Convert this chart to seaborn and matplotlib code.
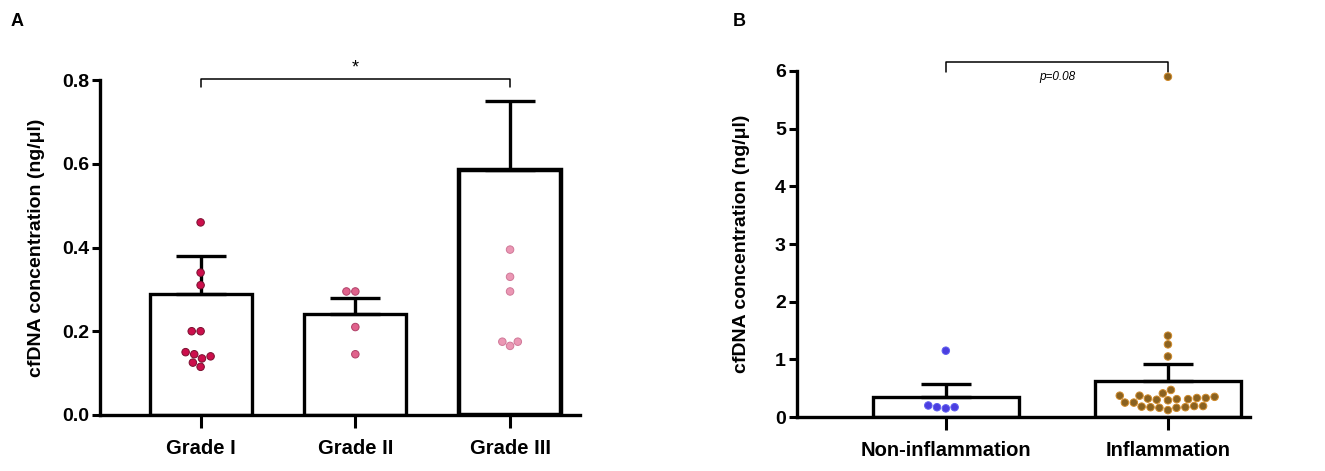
import numpy as np
import pandas as pd
import seaborn as sns
import matplotlib.pyplot as plt


# ======================================
# DATA
# ======================================

GRADES = ["Grade I", "Grade II", "Grade III"]
GRADE_MEAN = [0.29, 0.24, 0.585]
GRADE_SEM = [0.09, 0.04, 0.165]

grade_1 = [0.46, 0.34, 0.31, 0.20, 0.20, 0.15, 0.145, 0.14, 0.135, 0.125, 0.115]
grade_2 = [0.295, 0.295, 0.21, 0.145]
grade_3 = [0.395, 0.33, 0.295, 0.175, 0.175, 0.165]

GROUPS = ["Non-inflammation", "Inflammation"]
GROUP_MEAN = [0.35, 0.62]
GROUP_SEM = [0.22, 0.30]

non_inflam = [1.15, 0.20, 0.17, 0.17, 0.15]
inflam = [5.9, 1.41, 1.26, 1.05,
          0.47, 0.41, 0.37, 0.37, 0.35, 0.33, 0.33, 0.32, 0.31, 0.31,
          0.30, 0.29, 0.25, 0.25, 0.19, 0.19, 0.18, 0.17, 0.17, 0.16,
          0.16, 0.12]

GRADE_COLORS = ["#cc0f4c", "#e0628c", "#eb97b4"]
GRADE_EDGES = ["#7a1030", "#b04068", "#d07898"]
GROUP_COLORS = ["#4b3ee0", "#8a6221"]
GROUP_EDGES = ["#6060f0", "#d08a2a"]


# ======================================
# LONG TABLES
# ======================================

grade_pts = pd.DataFrame({
    "group": ["Grade I"] * len(grade_1)
    + ["Grade II"] * len(grade_2)
    + ["Grade III"] * len(grade_3),
    "value": grade_1 + grade_2 + grade_3
})

grade_bars = pd.DataFrame({"group": GRADES, "value": GRADE_MEAN})

inflam_pts = pd.DataFrame({
    "group": ["Non-inflammation"] * len(non_inflam)
    + ["Inflammation"] * len(inflam),
    "value": non_inflam + inflam
})

inflam_bars = pd.DataFrame({"group": GROUPS, "value": GROUP_MEAN})


# ======================================
# STYLE
# ======================================

sns.set_style("ticks")
plt.rcParams["font.family"] = ["Liberation Sans", "DejaVu Sans"]
plt.rcParams["font.weight"] = "bold"
plt.rcParams["text.color"] = "black"
plt.rcParams["axes.labelcolor"] = "black"
plt.rcParams["xtick.color"] = "black"
plt.rcParams["ytick.color"] = "black"
plt.rcParams["axes.edgecolor"] = "black"

fig = plt.figure(figsize=(13.25, 4.71), dpi=100)
ax_a = fig.add_axes([0.0755, 0.119, 0.362, 0.711])
ax_b = fig.add_axes([0.6015, 0.1146, 0.342, 0.7347])


def draw_panel(ax, bars, pts, order, means, sems, colors, edges,
               edge_widths, pt_size, ylabel_pad):
    sns.barplot(
        data=bars, x="group", y="value", order=order,
        color="white", edgecolor="black", linewidth=2.4,
        width=0.66, errorbar=None, ax=ax, zorder=2
    )
    for patch, lw in zip(ax.patches, edge_widths):
        patch.set_linewidth(lw)

    ax.errorbar(
        range(len(order)), means,
        yerr=[np.zeros(len(sems)), sems],
        fmt="none", ecolor="black", elinewidth=2.4,
        capsize=18, capthick=2.4, zorder=3
    )

    n_before = len(ax.collections)
    sns.swarmplot(
        data=pts, x="group", y="value", order=order,
        hue="group", hue_order=order, palette=colors,
        size=pt_size, linewidth=0.7,
        legend=False, ax=ax, zorder=4
    )
    for coll, ec in zip(ax.collections[n_before:], edges):
        coll.set_edgecolor(ec)

    for side in ["top", "right"]:
        ax.spines[side].set_visible(False)
    for side in ["left", "bottom"]:
        ax.spines[side].set_linewidth(2.4)

    ax.tick_params(axis="y", length=6, width=2.2, labelsize=14, pad=2)
    ax.tick_params(axis="x", length=9, width=2.2, labelsize=14.5, pad=8)
    ax.set_xlabel("")
    ax.set_ylabel("cfDNA concentration (ng/μl)", fontsize=14,
                  fontweight="bold", labelpad=ylabel_pad)
    for lab in ax.get_xticklabels() + ax.get_yticklabels():
        lab.set_fontweight("bold")


# ======================================
# PANEL A
# ======================================

draw_panel(ax_a, grade_bars, grade_pts, GRADES, GRADE_MEAN, GRADE_SEM,
           GRADE_COLORS, GRADE_EDGES, [2.4, 2.4, 3.2], 5.4, 12)
ax_a.set_xlim(-0.65, 2.45)
ax_a.set_ylim(0, 0.8)
ax_a.set_yticks([0.0, 0.2, 0.4, 0.6, 0.8])
ax_a.set_yticklabels(["0.0", "0.2", "0.4", "0.6", "0.8"])

ax_a.plot([0, 0, 2, 2], [0.783, 0.802, 0.802, 0.783],
          color="black", lw=1.1, clip_on=False)
ax_a.text(1, 0.808, "*", ha="center", va="bottom", fontsize=13,
          fontweight="normal")

fig.text(0.008, 0.955, "A", fontsize=13, fontweight="bold", va="center")


# ======================================
# PANEL B
# ======================================

draw_panel(ax_b, inflam_bars, inflam_pts, GROUPS, GROUP_MEAN, GROUP_SEM,
           GROUP_COLORS, GROUP_EDGES, [2.4, 2.4], 5.4, 18)
ax_b.set_xlim(-0.67, 1.37)
ax_b.set_ylim(0, 6)
ax_b.set_yticks(range(7))

ax_b.plot([0, 0, 1, 1], [5.98, 6.15, 6.15, 5.98],
          color="black", lw=1.1, clip_on=False)
ax_b.text(0.5, 5.9, "p=0.08", ha="center", va="center", fontsize=8.5,
          fontstyle="italic", fontweight="normal")

fig.text(0.553, 0.955, "B", fontsize=13, fontweight="bold", va="center")

fig.savefig("out.png", dpi=100)
